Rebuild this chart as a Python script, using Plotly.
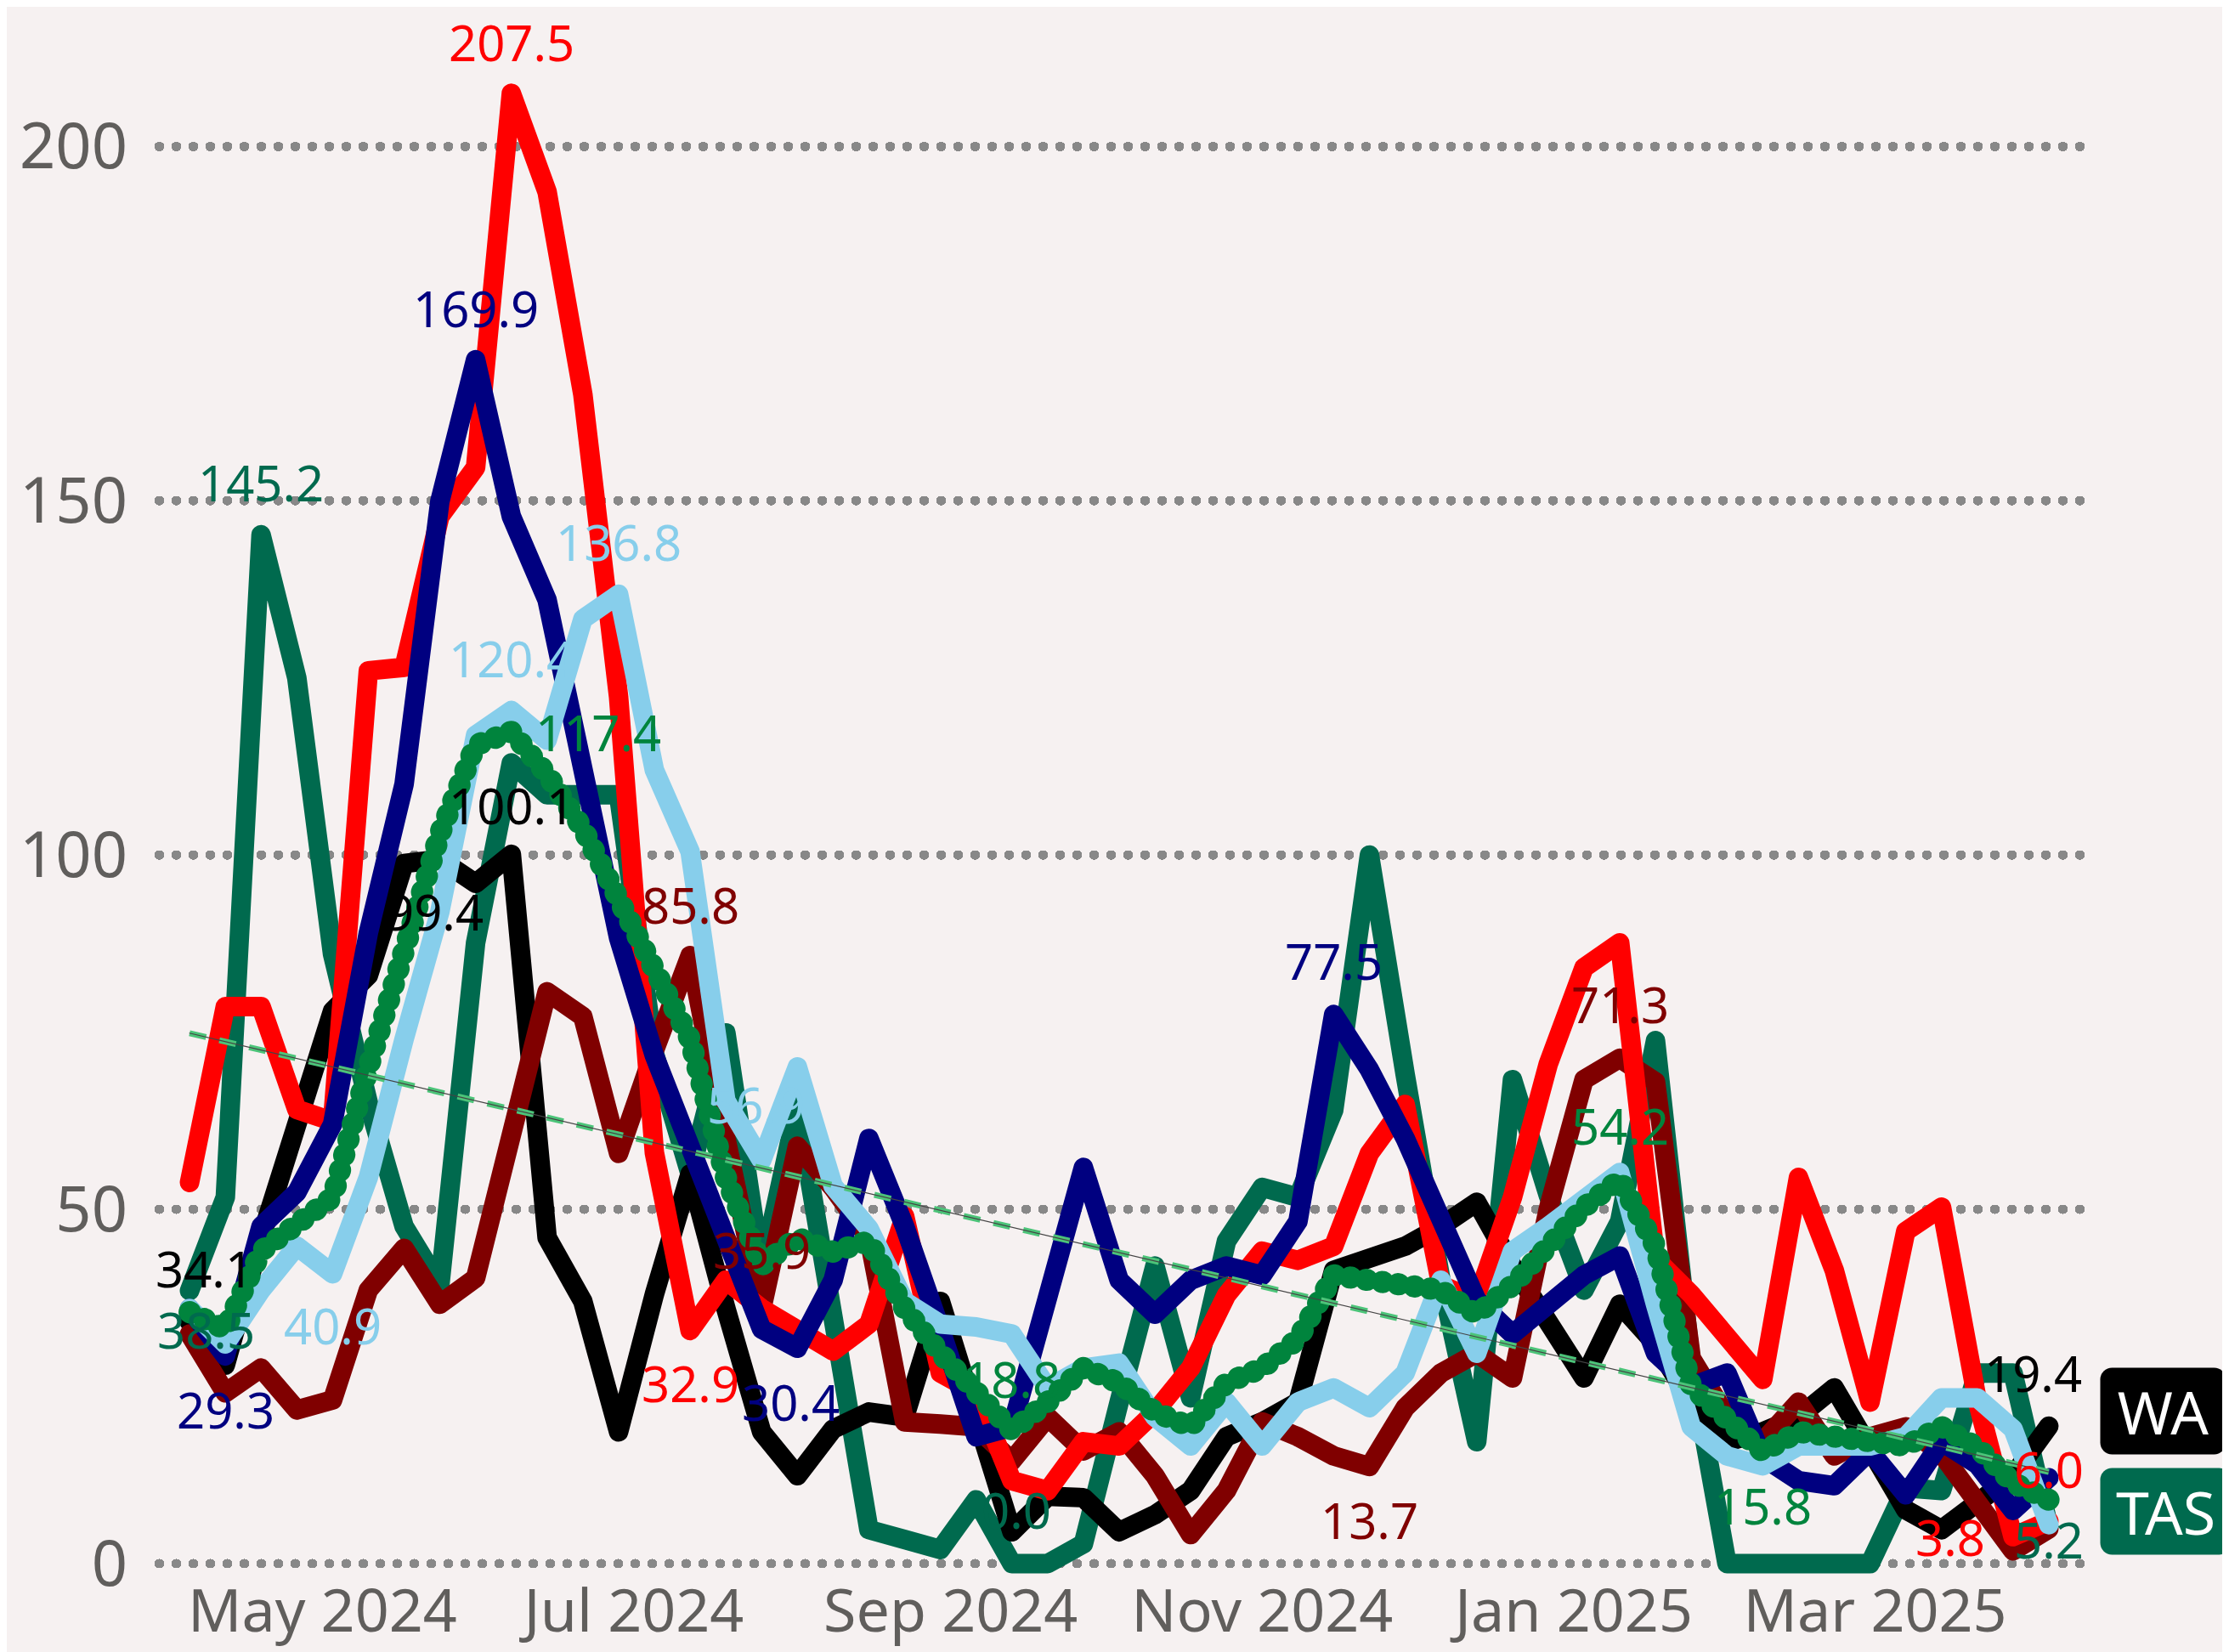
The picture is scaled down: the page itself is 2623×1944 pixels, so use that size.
import datetime
import numpy as np
import plotly.graph_objects as go

# weekly observations, Apr 2024 - Apr 2025
start = datetime.date(2024, 4, 5)
weeks = [start + datetime.timedelta(weeks=i) for i in range(53)]

wa = [34.1, 28.0, 46.0, 62.0, 78.0, 83.0, 98.8, 99.4, 96.0, 100.1,
      46.0, 37.0, 18.6, 38.0, 55.0, 36.0, 18.6, 12.4, 19.0, 21.4,
      20.7, 37.0, 21.0, 4.5, 9.5, 9.3, 4.5, 6.9, 10.3, 17.9,
      20.0, 22.8, 41.4, 43.4, 44.8, 47.6, 51.0, 42.0, 33.8, 26.2,
      36.6, 31.0, 22.8, 17.2, 18.6, 20.7, 24.8, 15.9, 7.6, 4.8,
      9.0, 12.4, 19.4]
tas = [38.5, 51.7, 145.2, 125.0, 86.0, 65.0, 47.6, 39.3, 87.6, 113.0,
       108.5, 108.5, 108.5, 72.0, 55.0, 74.9, 41.3, 64.5, 34.0, 4.8,
       3.4, 2.0, 9.0, 0.0, 0.0, 2.8, 22.8, 42.0, 23.4, 45.5,
       53.1, 51.7, 64.0, 100.0, 69.0, 40.0, 17.2, 68.3, 52.0, 38.6,
       48.3, 73.8, 28.0, 0.0, 0.0, 0.0, 0.0, 0.0, 10.7, 10.3,
       26.9, 26.9, 5.2]
nsw = [36.0, 31.0, 38.6, 44.8, 40.9, 54.5, 74.0, 92.0, 116.9, 120.4,
       116.2, 133.3, 136.8, 112.0, 100.5, 65.3, 56.9, 70.1, 53.3, 47.3,
       37.0, 33.8, 33.4, 32.4, 24.8, 27.6, 28.3, 20.7, 16.6, 22.8,
       16.6, 22.8, 24.8, 22.0, 26.9, 40.0, 29.7, 44.1, 47.6, 51.0,
       55.2, 36.6, 19.3, 15.2, 13.8, 16.6, 16.6, 16.6, 17.9, 23.4,
       23.4, 19.0, 5.5]
vic = [36.0, 29.3, 47.6, 52.4, 62.0, 89.0, 110.0, 149.9, 169.9, 147.8,
       136.0, 110.7, 88.3, 71.7, 58.6, 44.8, 33.1, 30.4, 40.0, 60.0,
       47.6, 33.1, 17.9, 19.3, 37.3, 55.9, 40.0, 35.2, 40.0, 42.0,
       40.7, 48.3, 77.5, 69.7, 60.0, 49.0, 37.2, 32.4, 36.6, 40.7,
       43.4, 29.7, 25.0, 26.9, 15.0, 11.7, 11.0, 15.9, 9.7, 17.2,
       14.0, 7.5, 12.1]
sa = [53.8, 78.6, 78.6, 64.1, 62.4, 126.0, 126.5, 147.8, 154.7, 207.5,
      193.6, 165.0, 122.3, 58.0, 32.9, 40.0, 36.0, 33.0, 30.0, 33.8,
      49.0, 26.9, 24.1, 11.7, 10.3, 17.2, 16.6, 21.4, 27.6, 37.9,
      44.1, 42.8, 44.8, 57.9, 64.8, 39.3, 37.2, 51.7, 70.5, 84.1,
      87.6, 43.0, 38.0, 32.0, 26.0, 54.5, 41.4, 22.8, 46.9, 50.3,
      23.0, 3.8, 6.0]
qld = [32.4, 24.1, 27.6, 21.7, 23.1, 38.6, 44.5, 36.6, 40.3, 60.0,
       80.7, 77.2, 57.9, 72.4, 85.8, 60.0, 35.9, 58.9, 53.0, 46.0,
       20.0, 19.7, 19.3, 14.5, 20.7, 15.9, 18.6, 12.4, 4.1, 10.3,
       20.0, 17.9, 15.2, 13.7, 22.0, 26.9, 29.7, 26.2, 50.0, 68.3,
       71.3, 68.0, 29.0, 20.7, 17.2, 22.8, 15.2, 17.9, 19.3, 15.5,
       9.0, 1.8, 4.9]
aus = [35.5, 33.1, 44.1, 47.6, 51.7, 70.0, 85.5, 103.0, 115.5, 117.4,
       111.4, 103.7, 93.8, 84.0, 74.0, 54.5, 42.1, 46.0, 44.0, 45.5,
       36.0, 29.7, 24.1, 18.8, 22.8, 27.6, 25.5, 21.4, 19.3, 25.5,
       27.6, 31.7, 40.7, 40.0, 39.3, 38.6, 35.2, 39.3, 44.8, 50.3,
       54.2, 44.8, 25.0, 20.3, 15.8, 18.6, 17.9, 16.6, 16.6, 19.3,
       16.4, 11.4, 9.0]

series = {"TAS": tas, "WA": wa, "QLD": qld, "SA": sa, "VIC": vic, "NSW": nsw}
colors = {"TAS": "#006A4E", "WA": "#000000", "QLD": "#800000", "SA": "#FF0000",
          "VIC": "#000080", "NSW": "#87CEEB", "AUS": "#00843D"}

# (series, week, dx, dy) - dy in screen pixels, positive = down
labels = [
    ("SA", 9, 0, -60), ("SA", 14, 0, 62), ("SA", 51, -74, 0), ("SA", 52, 0, -61),
    ("VIC", 8, 0, -61), ("VIC", 1, 0, 63), ("VIC", 17, -8, 63), ("VIC", 32, 0, -63),
    ("WA", 0, 17, -63), ("WA", 7, -6, 61), ("WA", 9, 0, -58), ("WA", 52, -18, -63),
    ("TAS", 0, 19, 46), ("TAS", 2, 0, -62), ("TAS", 23, 5, -63), ("TAS", 52, 0, 15),
    ("NSW", 4, 0, 61), ("NSW", 9, 0, -62), ("NSW", 12, 0, -62), ("NSW", 16, -7, -66),
    ("QLD", 14, 0, -60), ("QLD", 16, 0, -70), ("QLD", 33, 0, 63), ("QLD", 40, 0, -64),
    ("AUS", 9, 102, 0), ("AUS", 23, 0, -61), ("AUS", 40, 0, -64), ("AUS", 44, 0, 63),
]

FONT = "Noto Sans"
bg = "#F6F1F1"

fig = go.Figure()

for name, vals in series.items():
    fig.add_trace(go.Scatter(x=weeks, y=vals, mode="lines", name=name,
                             line=dict(color=colors[name], width=23)))

fig.add_trace(go.Scatter(x=weeks, y=aus, mode="lines", name="AUS",
                         line=dict(color=colors["AUS"], width=26, dash="1px,18px")))

# linear trend of the national series
idx = np.arange(len(aus))
slope, icept = np.polyfit(idx, aus, 1)
trend = icept + slope * idx
fig.add_trace(go.Scatter(x=weeks, y=trend, mode="lines", name="trend",
                         line=dict(color="#4CC479", width=7, dash="20px,16px")))
fig.add_trace(go.Scatter(x=weeks, y=trend, mode="lines", name="trend line",
                         line=dict(color="#444444", width=1.2)))

allvals = dict(series, AUS=aus)
for name, i, dx, dy in labels:
    fig.add_annotation(x=weeks[i], y=allvals[name][i], text=f"{allvals[name][i]:.1f}",
                       showarrow=False, xshift=dx, yshift=-dy,
                       font=dict(family=FONT, size=58, color=colors[name]))

for name, w in (("WA", 147), ("TAS", 153)):
    fig.add_annotation(x=weeks[-1], y=series[name][-1], text=name, showarrow=False,
                       xanchor="left", xshift=60, yshift=18, width=w, height=101,
                       bgcolor=colors[name], borderpad=0,
                       font=dict(family=FONT, size=70, color="white"))

fig.update_layout(
    width=2623, height=1944,
    margin=dict(l=179, r=178, t=81, b=87, autoexpand=False),
    paper_bgcolor=bg, plot_bgcolor=bg,
    showlegend=False,
    font=dict(family=FONT, size=70, color="#605E5C"),
)
fig.update_xaxes(
    range=[weeks[0] - datetime.timedelta(days=6), weeks[-1] + datetime.timedelta(days=7.5)],
    tickformat="%b %Y", dtick="M2", tick0="2024-05-01",
    showgrid=False, zeroline=False, showline=False, ticks="",
    automargin=False, ticklabelstandoff=-16,
    tickfont=dict(size=70, color="#605E5C"),
)
fig.update_yaxes(
    range=[-3, 210], tickvals=[0, 50, 100, 150, 200],
    showgrid=True, gridcolor="#888888", gridwidth=11, griddash="1px,19px",
    zeroline=False, showline=False, ticks="", ticklabelstandoff=36,
    automargin=False,
    tickfont=dict(size=74, color="#605E5C"),
)

post = """
var gd = document.getElementById('{plot_id}');
gd.querySelectorAll('path.js-line').forEach(function(p){
  if (p.style.strokeWidth !== '7px') { p.style.strokeLinecap = 'round'; }
  p.style.strokeLinejoin = 'round';
});
gd.querySelectorAll('path.ygrid').forEach(function(p){ p.style.strokeLinecap = 'round'; });
gd.querySelectorAll('g.annotation rect.bg').forEach(function(r){
  r.setAttribute('rx', 14); r.setAttribute('ry', 14);
});
"""

fig.write_html("out.html", post_script=post)
